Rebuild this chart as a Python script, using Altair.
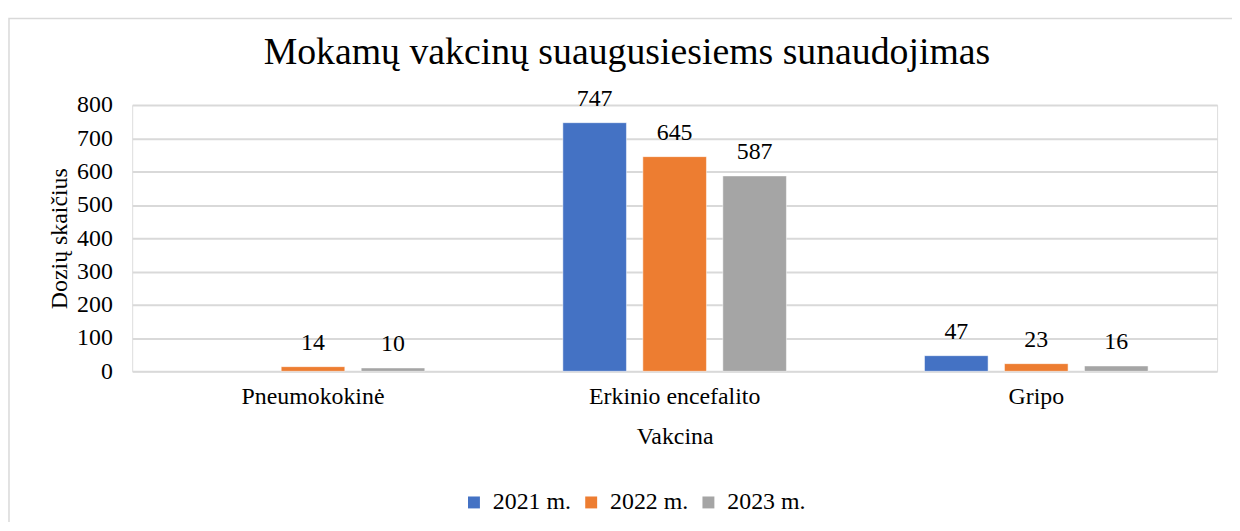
import altair as alt
import pandas as pd

categories = ["Pneumokokinė", "Erkinio encefalito", "Gripo"]
years = ["2021 m.", "2022 m.", "2023 m."]
colors = ["#4472C4", "#ED7D31", "#A5A5A5"]
v2021 = [None, 747, 47]
v2022 = [14, 645, 23]
v2023 = [10, 587, 16]
title_text = "Mokamų vakcinų suaugusiesiems sunaudojimas"

rows = []
for i, c in enumerate(categories):
    for y, vals in zip(years, [v2021, v2022, v2023]):
        if vals[i] is not None:
            rows.append({"Vakcina": c, "Metai": y, "Dozes": vals[i]})
df = pd.DataFrame(rows)

FONT = "Liberation Serif"
FS = 24
W, H = 1092, 268

x = alt.X("Vakcina:N", sort=categories,
          scale=alt.Scale(paddingInner=0, paddingOuter=0),
          axis=alt.Axis(title="Vakcina", labelAngle=0, domain=False, ticks=False,
                        labelPadding=13, titlePadding=17, labelFontSize=FS,
                        titleFontSize=FS, labelColor="#000", titleColor="#000",
                        titleFontWeight="normal", labelFont=FONT, titleFont=FONT))
xo = alt.XOffset("Metai:N", sort=years,
                 scale=alt.Scale(paddingInner=0.205, paddingOuter=0.863))
y = alt.Y("Dozes:Q", scale=alt.Scale(domain=[0, 800]),
          axis=alt.Axis(title="Dozių skaičius", values=list(range(0, 801, 100)),
                        labelOverlap=False,
                        domain=False, ticks=False, labelPadding=20, titlePadding=5,
                        gridColor="#d9d9d9", gridWidth=2, labelFontSize=FS,
                        titleFontSize=FS, labelColor="#000", titleColor="#000",
                        titleFontWeight="normal", labelFont=FONT, titleFont=FONT))

color = alt.Color("Metai:N", sort=years,
                  scale=alt.Scale(domain=years, range=colors),
                  legend=alt.Legend(title=None, orient="none", direction="horizontal",
                                    legendX=332, legendY=388, symbolType="square",
                                    symbolSize=144, symbolStrokeWidth=0,
                                    labelFontSize=FS, labelFont=FONT, labelColor="#000",
                                    columnPadding=8, labelOffset=7))

frame = alt.Chart(pd.DataFrame({"a": [0]})).mark_rect(
    fill=None, stroke="#d9d9d9", strokeWidth=1.5
).encode(x=alt.value(-124), x2=alt.value(W + 40), y=alt.value(-87), y2=alt.value(H + 200))

title = alt.Chart(pd.DataFrame({"t": [title_text]})).mark_text(
    fontSize=38, font=FONT, color="#000", baseline="middle", align="center"
).encode(x=alt.value(498), y=alt.value(-52), text="t:N")

bars = alt.Chart(df).mark_bar(stroke="white", strokeWidth=0.5).encode(
    x=x, xOffset=xo, y=y, color=color
)
labels = alt.Chart(df).mark_text(baseline="alphabetic", dy=-17, fontSize=FS, font=FONT,
                                 color="#000").encode(
    x=x, xOffset=xo, y=y, text="Dozes:Q"
)

chart = alt.layer(frame, title, bars, labels).properties(
    width=W, height=H,
    padding={"left": 125, "top": 96, "right": 15, "bottom": 150},
    autosize=alt.AutoSizeParams(type="none"),
).configure_view(stroke=None).configure(background="white")

chart.save("out.html", embed_options={"renderer": "svg", "actions": False})
